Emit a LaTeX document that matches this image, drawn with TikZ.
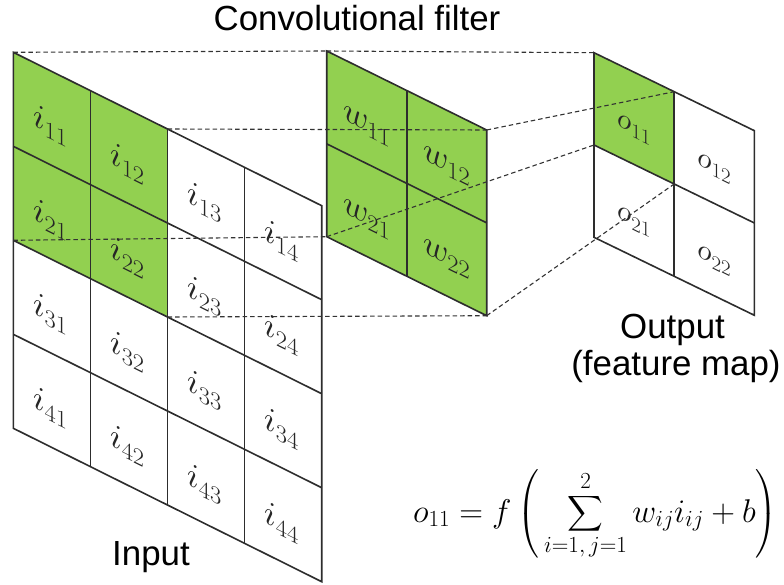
\RequirePackage{fix-cm}
\documentclass[tikz,border=0pt]{standalone}
\usepackage{amsmath}
\usepackage{fontspec}
\setsansfont{Liberation Sans}
\usetikzlibrary{calc}
\definecolor{cellgreen}{RGB}{146,208,80}
\definecolor{gridcol}{RGB}{45,45,45}
\begin{document}
\begin{tikzpicture}[x=1bp,y=-1bp,
  gridln/.style={draw=gridcol, line width=1.6bp},
  conn/.style={draw=black!80, line width=1.1bp, dash pattern=on 4.5bp off 3bp},
  lbl/.style={inner sep=0pt, yslant=-0.495, text=black!85},
  captext/.style={font=\sffamily\fontsize{35}{42}\selectfont, inner sep=0pt, anchor=base}]
\useasboundingbox (0,0) rectangle (784,585);

% ---------- Input 4x4 ----------
\begin{scope}[shift={(13.3,52.3)}, x={(77.1bp,-38.35bp)}, y={(0bp,-94bp)}]
  \fill[cellgreen] (0,0) -- (2,0) -- (2,2) -- (0,2) -- cycle;
  \foreach \k in {1,2,3} {\draw[gridln] (\k,0) -- (\k,4); \draw[gridln] (0,\k) -- (4,\k);}
  \draw[gridln] (0,0) -- (4,0) -- (4,4) -- (0,4) -- cycle;
  \foreach \r in {1,...,4} {\foreach \c in {1,...,4} {
    \node[lbl, font=\fontsize{35}{42}\selectfont] (i\r\c) at (\c-0.52,\r-0.42) {$i_{\r\c}$};}}
  \coordinate (inTL) at (0,0); \coordinate (inTR) at (2,0);
  \coordinate (inBL) at (0,2); \coordinate (inBR) at (2,2);
\end{scope}

% ---------- Filter 2x2 ----------
\begin{scope}[shift={(326.7,51)}, x={(80bp,-39.5bp)}, y={(0bp,-92.85bp)}]
  \fill[cellgreen] (0,0) -- (2,0) -- (2,2) -- (0,2) -- cycle;
  \draw[gridln] (1,0) -- (1,2); \draw[gridln] (0,1) -- (2,1);
  \draw[gridln] (0,0) -- (2,0) -- (2,2) -- (0,2) -- cycle;
  \foreach \r in {1,2} {\foreach \c in {1,2} {
    \node[lbl, font=\fontsize{35}{42}\selectfont] (w\r\c) at (\c-0.5,\r-0.4) {$w_{\r\c}$};}}
  \coordinate (fTL) at (0,0); \coordinate (fTR) at (2,0);
  \coordinate (fBL) at (0,2); \coordinate (fBR) at (2,2);
\end{scope}

% ---------- Output 2x2 ----------
\begin{scope}[shift={(594,52.7)}, x={(80.2bp,-39bp)}, y={(0bp,-92.3bp)}]
  \fill[cellgreen] (0,0) -- (1,0) -- (1,1) -- (0,1) -- cycle;
  \draw[gridln] (1,0) -- (1,2); \draw[gridln] (0,1) -- (2,1);
  \draw[gridln] (0,0) -- (2,0) -- (2,2) -- (0,2) -- cycle;
  \foreach \r in {1,2} {\foreach \c in {1,2} {
    \node[lbl, font=\fontsize{30}{36}\selectfont] (o\r\c) at (\c-0.5,\r-0.38) {$o_{\r\c}$};}}
  \coordinate (oTL) at (0,0); \coordinate (oTR) at (1,0);
  \coordinate (oBL) at (0,1); \coordinate (oBR) at (1,1);
\end{scope}

% ---------- dashed projections ----------
\draw[conn] (inTL) -- (fTL);
\draw[conn] (inTR) -- (fTR);
\draw[conn] (inBL) -- (fBL);
\draw[conn] (inBR) -- (fBR);
\draw[conn] (fTL) -- (oTL);
\draw[conn] (fTR) -- (oTR);
\draw[conn] (fBL) -- (oBL);
\draw[conn] (fBR) -- (oBR);

% ---------- captions ----------
\node[captext] (title) at (357,31) {Convolutional filter};
\node[captext] (inputlbl) at (151,565) {Input};
\node[captext] (outputlbl) at (672.5,338) {Output};
\node[captext] (fmaplbl) at (676,375) {(feature map)};

% ---------- formula ----------
\node[anchor=base west, inner sep=0pt, font=\fontsize{33}{40}\selectfont] (formula) at (413,522)
  {$\displaystyle o_{11} = f\left(\,\sum_{i=1,\,j=1}^{2} w_{ij}i_{ij} + b\right)$};
\end{tikzpicture}
\end{document}
